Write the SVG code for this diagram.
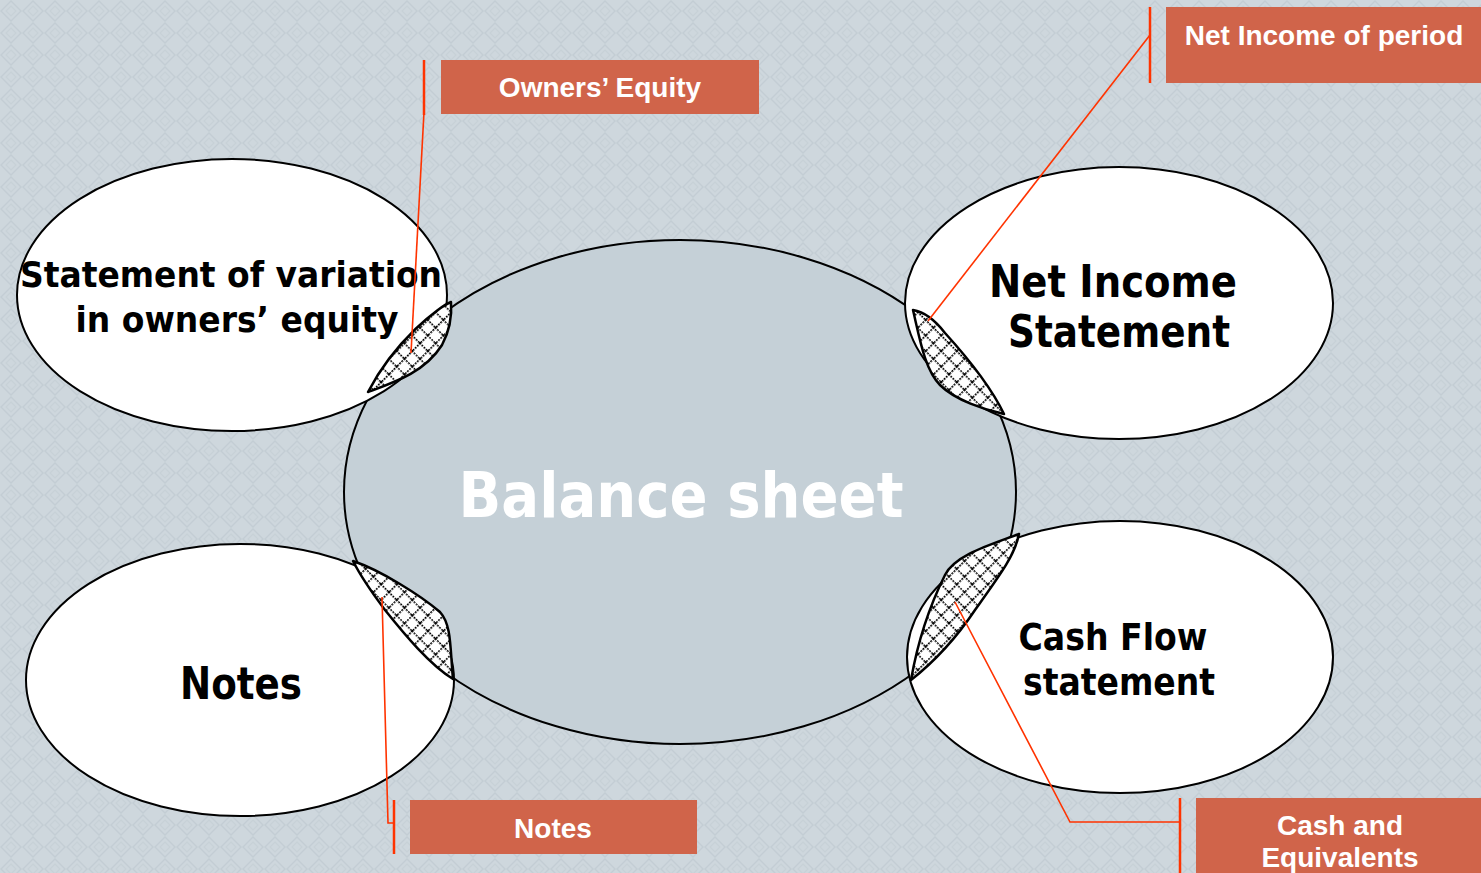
<svg xmlns="http://www.w3.org/2000/svg" width="1481" height="873" viewBox="0 0 1481 873">
  <defs>
    <!-- subtle diamond texture of the backdrop -->
    <pattern id="bgTex" width="22" height="22" patternUnits="userSpaceOnUse">
      <rect width="22" height="22" fill="#ced7dd"/>
      <path d="M11,1 L21,11 L11,21 L1,11 Z" fill="none" stroke="#c3cdd4" stroke-width="1.4"/>
      <path d="M11,6 L16,11 L11,16 L6,11 Z" fill="none" stroke="#c7d1d7" stroke-width="1.1"/>
    </pattern>
    <!-- diagonal crosshatch for the overlap lenses -->
    <pattern id="hatch" width="11" height="11" patternUnits="userSpaceOnUse" patternTransform="rotate(45)">
      <rect width="11" height="11" fill="#ffffff"/>
      <path d="M0,0.8 H11 M0.8,0 V11" stroke="#000" stroke-width="1.6" stroke-dasharray="2 1"/>
    </pattern>
  </defs>
  <style>
    .side { fill: #ffffff; stroke: #000; stroke-width: 2; }
    .lens { fill: url(#hatch); stroke: #000; stroke-width: 2.5; stroke-linejoin: round; }
    .big { font-family: "DejaVu Sans", "Verdana", sans-serif; font-weight: bold; fill: #000; text-anchor: middle; }
    .tag rect { fill: #d0644a; }
    .tag text { font-family: "Liberation Sans", Arial, sans-serif; font-weight: bold; font-size: 28px; fill: #ffffff; text-anchor: middle; }
    .lead { fill: none; stroke: #ff3300; stroke-width: 1.6; }
    .bar { fill: none; stroke: #ff3300; stroke-width: 2.5; }
  </style>

  <rect width="1481" height="873" fill="url(#bgTex)"/>

  <!-- central statement -->
  <g id="balance-sheet">
    <ellipse cx="680" cy="492" rx="336" ry="252" fill="#c5d0d7" stroke="#000" stroke-width="2"/>
    <text x="681" y="517" font-family="DejaVu Sans, Verdana, sans-serif" font-weight="bold" font-size="62" fill="#ffffff" text-anchor="middle" textLength="445" lengthAdjust="spacingAndGlyphs">Balance sheet</text>
  </g>

  <g id="owners-equity-statement">
    <ellipse class="side" cx="232" cy="295" rx="215" ry="136"/>
    <text class="big" x="231" y="287" font-size="36" textLength="422" lengthAdjust="spacingAndGlyphs">Statement of variation</text>
    <text class="big" x="237" y="332" font-size="36" textLength="323" lengthAdjust="spacingAndGlyphs">in owners’ equity</text>
  </g>

  <g id="income-statement">
    <ellipse class="side" cx="1119" cy="303" rx="214" ry="136"/>
    <text class="big" x="1113" y="297" font-size="44" textLength="248" lengthAdjust="spacingAndGlyphs">Net Income</text>
    <text class="big" x="1119" y="347" font-size="44" textLength="222" lengthAdjust="spacingAndGlyphs">Statement</text>
  </g>

  <g id="notes">
    <ellipse class="side" cx="240" cy="680" rx="214" ry="136"/>
    <text class="big" x="241" y="699" font-size="44" textLength="122" lengthAdjust="spacingAndGlyphs">Notes</text>
  </g>

  <g id="cash-flow-statement">
    <ellipse class="side" cx="1120" cy="657" rx="213" ry="136"/>
    <text class="big" x="1113" y="650" font-size="38" textLength="189" lengthAdjust="spacingAndGlyphs">Cash Flow</text>
    <text class="big" x="1119" y="695" font-size="38" textLength="192" lengthAdjust="spacingAndGlyphs">statement</text>
  </g>

  <!-- hatched links between the balance sheet and each statement -->
  <g id="links">
    <path class="lens" d="M451,302 C440,306 395,340 368,392 C395,382 425,372 442,345 C450,330 452,315 451,302 Z"/>
    <path class="lens" d="M913,310 C925,312 935,320 945,333 C965,355 990,385 1004,414 C985,410 955,400 940,385 C925,370 920,340 913,310 Z"/>
    <path class="lens" d="M353,561 C380,570 420,595 440,612 C452,625 450,650 453,679 C430,665 405,635 385,610 C370,590 360,575 353,561 Z"/>
    <path class="lens" d="M1019,534 C990,545 955,555 945,575 C930,605 918,640 911,680 C930,665 955,640 975,610 C1000,575 1015,555 1019,534 Z"/>
  </g>

  <!-- callout leader lines -->
  <g id="connectors">
    <path class="bar" d="M424,60 V115"/>
    <path class="lead" d="M424,112 L411,353"/>
    <path class="bar" d="M1150,7 V83"/>
    <path class="lead" d="M1150,35 L928,321"/>
    <path class="bar" d="M394,800 V854"/>
    <path class="lead" d="M382,597 L388,823 H394"/>
    <path class="bar" d="M1180,798 V873"/>
    <path class="lead" d="M955,602 L1070,822 H1180"/>
  </g>

  <!-- callout labels -->
  <g id="tag-owners-equity" class="tag">
    <rect x="441" y="60" width="318" height="54"/>
    <text x="600" y="97">Owners’ Equity</text>
  </g>
  <g id="tag-net-income" class="tag">
    <rect x="1166" y="7" width="315" height="76"/>
    <text x="1324" y="45">Net Income of period</text>
  </g>
  <g id="tag-notes" class="tag">
    <rect x="410" y="800" width="287" height="54"/>
    <text x="553" y="838">Notes</text>
  </g>
  <g id="tag-cash" class="tag">
    <rect x="1196" y="798" width="285" height="75"/>
    <text x="1340" y="835">Cash and</text>
    <text x="1340" y="867">Equivalents</text>
  </g>
</svg>
